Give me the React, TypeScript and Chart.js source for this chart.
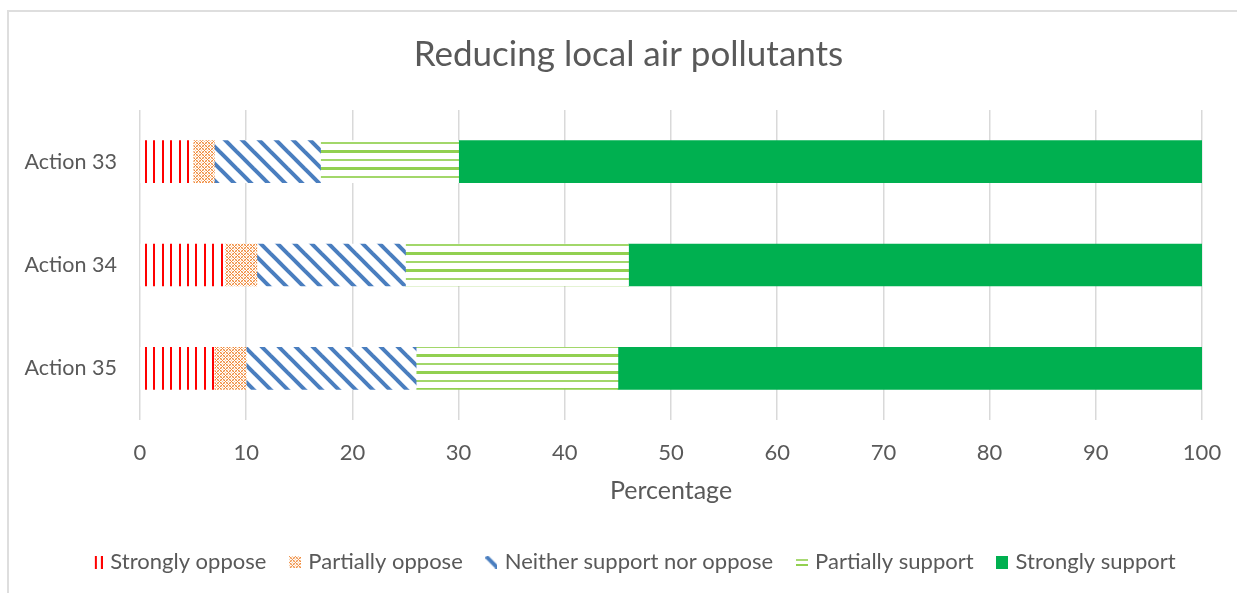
import React, { useEffect, useRef } from 'react';
import { Chart, registerables } from 'chart.js';

Chart.register(...registerables);

const categories = ['Action 33', 'Action 34', 'Action 35'];
const seriesNames = [
  'Strongly oppose',
  'Partially oppose',
  'Neither support nor oppose',
  'Partially support',
  'Strongly support',
];
const stronglyOppose = [5, 8, 7];
const partiallyOppose = [2, 3, 3];
const neitherSupportNorOppose = [10, 14, 16];
const partiallySupport = [13, 21, 19];
const stronglySupport = [70, 54.2, 55.2];
const titleText = 'Reducing local air pollutants';
const xAxisTitle = 'Percentage';

const FONT = 'Lato, "Open Sans", sans-serif';
const TEXT = '#595959';
const RED = '#FF0000';
const ORANGE = '#F08A3C';
const BLUE = '#4A7EBF';
const LGREEN = '#92D050';
const DGREEN = '#00B050';

function mk(w: number, h: number) {
  const c = document.createElement('canvas');
  c.width = w;
  c.height = h;
  return c;
}

function redTile() {
  const c = mk(42, 4);
  const g = c.getContext('2d')!;
  g.fillStyle = '#ffffff';
  g.fillRect(0, 0, 42, 4);
  g.fillStyle = RED;
  [19, 27.4, 35.8, 2.2, 10.6].forEach((x) => g.fillRect(Math.round(x), 0, 2, 4));
  return c;
}

function orangeTile() {
  const c = mk(6, 6);
  const g = c.getContext('2d')!;
  g.fillStyle = '#ffffff';
  g.fillRect(0, 0, 6, 6);
  for (let x = 0; x < 6; x++) {
    for (let y = 0; y < 6; y++) {
      const a = (x + y) % 6;
      const b = (x - y + 6) % 6;
      if (a === 0 || b === 0) {
        g.fillStyle = ORANGE;
        g.fillRect(x, y, 1, 1);
      } else if (a === 3 || b === 3) {
        g.fillStyle = '#F8C79E';
        g.fillRect(x, y, 1, 1);
      }
    }
  }
  return c;
}

function blueTile() {
  const p = 17;
  const c = mk(p, p);
  const g = c.getContext('2d')!;
  g.fillStyle = '#ffffff';
  g.fillRect(0, 0, p, p);
  g.strokeStyle = BLUE;
  g.lineWidth = 4;
  for (let k = -1; k <= 1; k++) {
    g.beginPath();
    g.moveTo(k * p - 2, -2);
    g.lineTo(k * p + p + 2, p + 2);
    g.stroke();
  }
  return c;
}

function greenTile() {
  const c = mk(4, 17);
  const g = c.getContext('2d')!;
  g.fillStyle = '#ffffff';
  g.fillRect(0, 0, 4, 17);
  g.fillStyle = LGREEN;
  g.fillRect(0, 14, 4, 3);
  g.globalAlpha = 0.85;
  g.fillRect(0, 6, 4, 2);
  return c;
}

function legendRed() {
  const c = mk(12, 13);
  const g = c.getContext('2d')!;
  g.fillStyle = RED;
  g.fillRect(4, 0, 2, 13);
  g.fillRect(10, 0, 2, 13);
  return c;
}

function legendOrange() {
  const c = mk(12, 12);
  const g = c.getContext('2d')!;
  g.fillStyle = g.createPattern(orangeTile(), 'repeat')!;
  g.fillRect(0, 0, 12, 12);
  return c;
}

function legendBlue() {
  const c = mk(12, 13);
  const g = c.getContext('2d')!;
  g.strokeStyle = BLUE;
  g.lineWidth = 4;
  g.beginPath();
  g.moveTo(1, 1);
  g.lineTo(13, 13);
  g.stroke();
  return c;
}

function legendGreen() {
  const c = mk(12, 10);
  const g = c.getContext('2d')!;
  g.fillStyle = LGREEN;
  g.globalAlpha = 0.8;
  g.fillRect(0, 2, 12, 2);
  g.globalAlpha = 1;
  g.fillRect(0, 7, 12, 2);
  return c;
}

function legendSolid() {
  const c = mk(12, 13);
  const g = c.getContext('2d')!;
  g.fillStyle = DGREEN;
  g.fillRect(0, 0, 12, 13);
  return c;
}

const shiftBlocks = {
  id: 'shiftBlocks',
  afterLayout(chart: any) {
    if (chart.titleBlock) chart.titleBlock.left = 55;
    if (chart.legend) chart.legend.left = 68;
  },
};

export default function App() {
  const ref = useRef<HTMLCanvasElement | null>(null);

  useEffect(() => {
    const canvas = ref.current;
    if (!canvas) return;
    const ctx = canvas.getContext('2d')!;
    const fills = [
      ctx.createPattern(redTile(), 'repeat')!,
      ctx.createPattern(orangeTile(), 'repeat')!,
      ctx.createPattern(blueTile(), 'repeat')!,
      ctx.createPattern(greenTile(), 'repeat')!,
      DGREEN,
    ];
    const markers = [legendRed(), legendOrange(), legendBlue(), legendGreen(), legendSolid()];
    const values = [stronglyOppose, partiallyOppose, neitherSupportNorOppose, partiallySupport, stronglySupport];

    const chart = new Chart(canvas, {
      type: 'bar',
      data: {
        labels: categories,
        datasets: values.map((v, i) => ({
          label: seriesNames[i],
          data: v,
          backgroundColor: fills[i] as any,
          borderWidth: 0,
          barThickness: 42,
        })),
      },
      plugins: [shiftBlocks],
      options: {
        indexAxis: 'y',
        responsive: false,
        animation: false,
        layout: { padding: { left: 0, right: 35, top: 0, bottom: 10 } },
        scales: {
          x: {
            type: 'linear',
            stacked: true,
            min: 0,
            max: 100,
            ticks: { stepSize: 10, color: TEXT, font: { family: FONT, size: 22 }, padding: 20 },
            grid: { color: '#d9d9d9', lineWidth: 1.5, drawTicks: false },
            border: { display: false },
            title: {
              display: true,
              text: xAxisTitle,
              color: TEXT,
              font: { family: FONT, size: 25 },
              padding: { top: 4, bottom: 19 },
            },
            afterFit: (s: any) => {
              s.height = 105;
              s.paddingLeft = 0;
              s.paddingRight = 0;
            },
          },
          y: {
            type: 'category',
            stacked: true,
            grid: { display: false, drawTicks: false },
            border: { display: false },
            ticks: { color: TEXT, font: { family: FONT, size: 21.5 }, padding: 23 },
            afterFit: (s: any) => {
              s.width = 140;
            },
          },
        },
        plugins: {
          tooltip: { enabled: false },
          title: {
            display: true,
            text: titleText,
            color: TEXT,
            font: { family: FONT, size: 35, weight: 'normal' },
            padding: { top: 34.2, bottom: 33.8 },
          },
          legend: {
            position: 'bottom',
            labels: {
              color: TEXT,
              font: { family: FONT, size: 22 },
              usePointStyle: true,
              boxWidth: 5,
              padding: 26,
              generateLabels: () =>
                seriesNames.map((n, i) => ({
                  text: n,
                  pointStyle: markers[i] as any,
                  fillStyle: 'transparent',
                  strokeStyle: 'transparent',
                  lineWidth: 0,
                  hidden: false,
                  datasetIndex: i,
                  fontColor: TEXT,
                })),
            },
          },
        },
      },
    });
    return () => chart.destroy();
  }, []);

  return (
    <div
      style={{
        position: 'fixed',
        left: 0,
        top: 0,
        width: 1237,
        height: 593,
        overflow: 'hidden',
        background: '#ffffff',
      }}
    >
      <div
        style={{
          position: 'absolute',
          left: 7,
          top: 10,
          width: 1300,
          height: 700,
          border: '2px solid #dedede',
          boxSizing: 'border-box',
        }}
      />
      <canvas ref={ref} width={1237} height={593} style={{ position: 'absolute', left: 0, top: 0 }} />
    </div>
  );
}
